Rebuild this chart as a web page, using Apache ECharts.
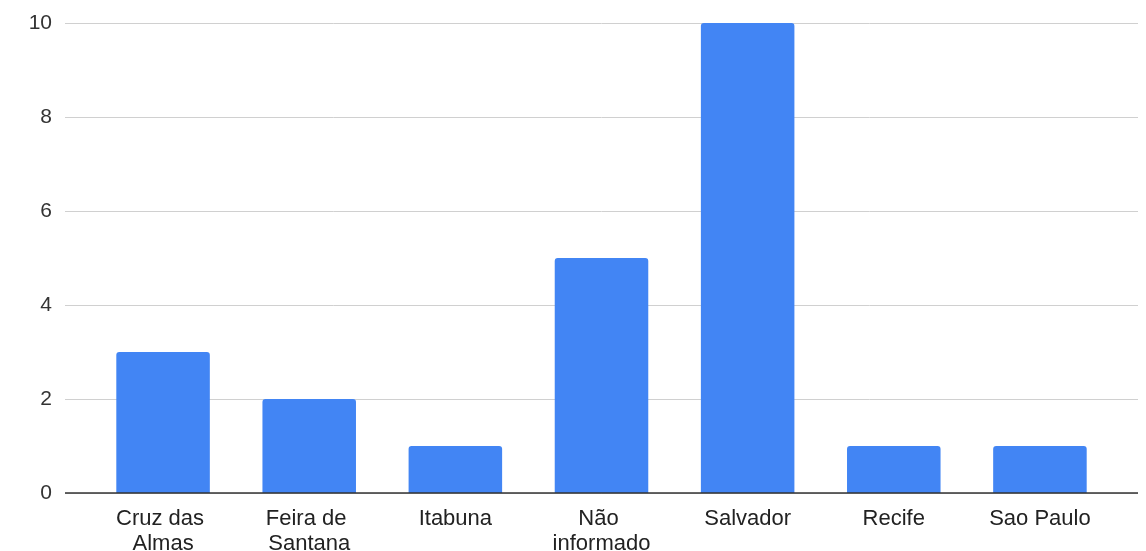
<!DOCTYPE html>
<html><head><meta charset="utf-8">
<script src="https://cdn.jsdelivr.net/npm/echarts@6/dist/echarts.min.js"></script>
<style>html,body{margin:0;padding:0;background:#fff}#c{width:1146px;height:551px}</style>
</head><body><div id="c"></div>
<script>
const categories = ["Cruz das Almas", "Feira de Santana", "Itabuna", "Não informado", "Salvador", "Recife", "Sao Paulo"];
const values = [3, 2, 1, 5, 10, 1, 1];
const yTicks = [0, 2, 4, 6, 8, 10];

const font = "Liberation Sans, Arial, sans-serif";
const chart = echarts.init(document.getElementById('c'));
chart.setOption({
  animation: false,
  grid: [
    {left: 65, right: 8, top: 23, bottom: 58, containLabel: false, outerBoundsMode: 'none'},
    {left: 90, right: 33, top: 23, bottom: 58, containLabel: false, outerBoundsMode: 'none'}
  ],
  xAxis: [
    {gridIndex: 0, type: 'value', min: 0, max: 1, show: true,
     axisLine: {show: false}, axisTick: {show: false}, axisLabel: {show: false}, splitLine: {show: false}},
    {gridIndex: 1, type: 'category', data: categories,
     axisLine: {show: false}, axisTick: {show: false},
     axisLabel: {interval: 0, color: '#222', fontFamily: font, fontSize: 22, lineHeight: 25, margin: 13,
                 width: 120, overflow: 'break'}}
  ],
  yAxis: [
    {gridIndex: 0, type: 'value', min: yTicks[0], max: yTicks[yTicks.length-1], interval: 2,
     axisLine: {show: false}, axisTick: {show: false},
     axisLabel: {color: '#333', fontFamily: font, fontSize: 21, margin: 13},
     splitLine: {lineStyle: {color: '#d0d0d0', width: 1}}},
    {gridIndex: 1, type: 'value', min: yTicks[0], max: yTicks[yTicks.length-1], interval: 2, show: false,
     splitLine: {show: false}}
  ],
  series: [
    {type: 'bar', xAxisIndex: 1, yAxisIndex: 1, data: values, barCategoryGap: '36%',
     itemStyle: {color: '#4285F4', borderRadius: [3, 3, 0, 0]}, z: 2},
    {type: 'line', xAxisIndex: 0, yAxisIndex: 0, data: [], z: 3,
     markLine: {silent: true, symbol: 'none', label: {show: false},
       lineStyle: {color: '#333', width: 1.5, type: 'solid'},
       data: [{yAxis: 0}]}}
  ]
});
</script></body></html>
